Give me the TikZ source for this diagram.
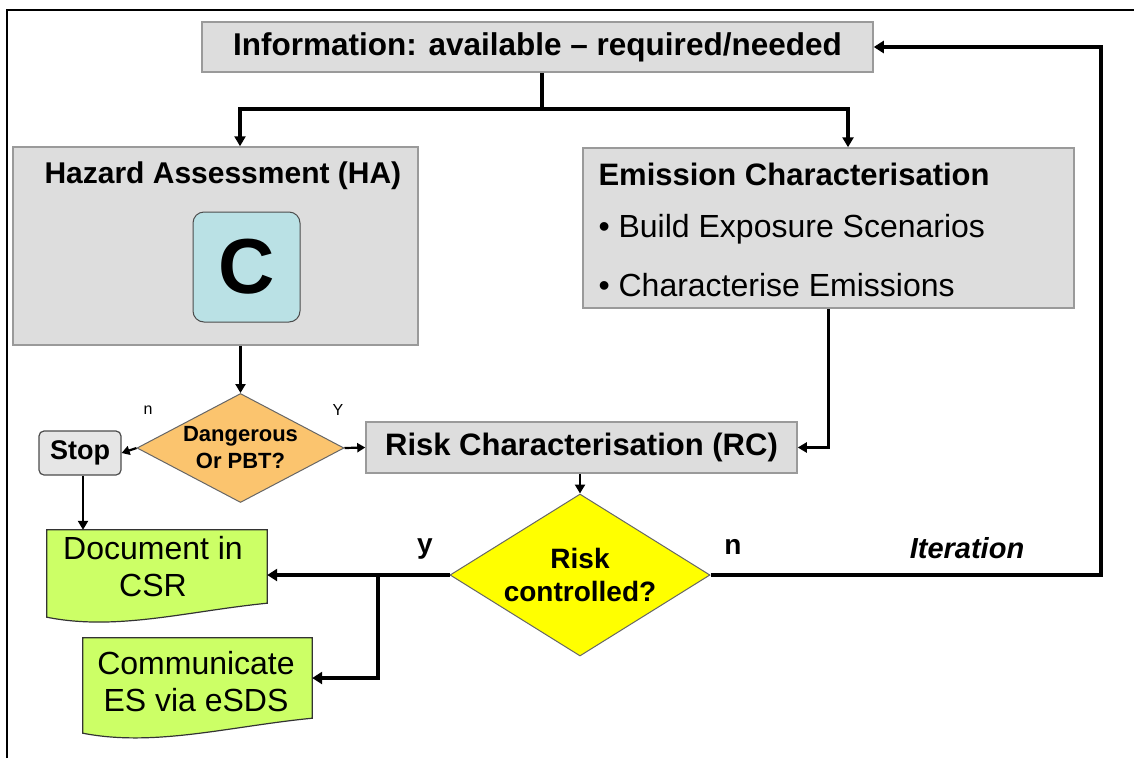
\documentclass[tikz,border=0pt]{standalone}
\usepackage{fontspec}
\setmainfont{Liberation Sans}
\usetikzlibrary{arrows.meta,shapes.geometric,calc}
\definecolor{boxgray}{HTML}{DDDDDD}
\definecolor{boxedge}{HTML}{9A9A9A}
\definecolor{cblue}{HTML}{BAE1E5}
\definecolor{dorange}{HTML}{FBC46E}
\definecolor{ryellow}{HTML}{FFFF00}
\definecolor{dgreen}{HTML}{CCFF66}
\definecolor{stopgray}{HTML}{E6E6E6}
\begin{document}
\begin{tikzpicture}[x=1pt,y=-1pt,
  graybox/.style={draw=boxedge,fill=boxgray,line width=1.5pt,inner sep=0pt},
  bigtext/.style={font=\fontsize{31}{36}\selectfont\bfseries},
  regtext/.style={font=\fontsize{32}{36}\selectfont},
  doctext/.style={font=\fontsize{32}{37}\selectfont,align=center,inner sep=0pt},
  conn/.style={line width=3.5pt,-{Triangle[length=10pt,width=11pt]}},
  midconn/.style={line width=2.8pt,-{Triangle[length=9pt,width=10pt]}},
  thinconn/.style={line width=2.2pt,-{Triangle[length=8pt,width=9pt]}},
  bigconn/.style={line width=4pt,-{Triangle[length=10pt,width=12pt]}},
  docshape/.style={draw=black!80,fill=dgreen,line width=1.2pt}]
\useasboundingbox (0,0) rectangle (1134,758);
\fill[white] (0,0) rectangle (1134,758);
\draw[line width=1.5pt] (7,758) -- (7,10) -- (1134,10);

% boxes
\node[graybox,font=\fontsize{31.5}{36}\selectfont\bfseries,minimum width=671pt,minimum height=50pt] (info) at (537.5,47) {Information: available \textendash\ required/needed};
\node[graybox,minimum width=405pt,minimum height=198pt] (ha) at (215.5,246) {};
\node[font=\fontsize{30}{36}\selectfont\bfseries,anchor=west] (hatitle) at (41,176) {Hazard Assessment (HA)};
\node[draw=black!70,fill=cblue,rounded corners=11pt,line width=1pt,minimum width=107pt,minimum height=110pt,font=\fontsize{78}{80}\selectfont\bfseries] (cbox) at (246.5,267) {C};

\node[graybox,minimum width=491pt,minimum height=160pt] (ec) at (828.5,228) {};
\node[bigtext,anchor=west] (ectitle) at (595,174) {Emission Characterisation};
\node[regtext,anchor=west] (ecb1) at (595,229) {\textbullet\ Build Exposure Scenarios};
\node[regtext,anchor=west] (ecb2) at (595,285) {\textbullet\ Characterise Emissions};

\node[diamond,aspect=2,draw=black!60,fill=dorange,line width=1pt,inner sep=0pt,minimum width=207pt,minimum height=109pt,align=center,font=\fontsize{22}{27}\selectfont\bfseries] (dang) at (240.5,448) {Dangerous\\Or PBT?};
\node[draw=black!70,fill=stopgray,rounded corners=5pt,line width=1.2pt,minimum width=82pt,minimum height=44pt,font=\fontsize{27}{30}\selectfont\bfseries] (stop) at (80,453) {Stop};
\node[graybox,bigtext,minimum width=431pt,minimum height=51pt] (rc) at (581.5,447.5) {Risk Characterisation (RC)};

\node[diamond,aspect=1.6,draw=black!60,fill=ryellow,line width=1pt,inner sep=0pt,minimum width=260pt,minimum height=162pt,align=center,font=\fontsize{28}{33}\selectfont\bfseries] (risk) at (580,575) {Risk\\controlled?};

% document shapes
\node[minimum width=220pt,minimum height=73pt,inner sep=0pt] (doc) at (157,566.5) {};
\draw[docshape] (doc.north west) -- (doc.north east) -- (doc.south east)
  .. controls ($(doc.south east)+(-80,8)$) and ($(doc.south west)+(70,28)$) .. ($(doc.south west)+(0,14)$) -- cycle;
\node[doctext] (doctxt) at (153,567) {Document in\\CSR};

\node[minimum width=229pt,minimum height=80pt,inner sep=0pt] (comm) at (197.5,678) {};
\draw[docshape] (comm.north west) -- (comm.north east) -- (comm.south east)
  .. controls ($(comm.south east)+(-82,8)$) and ($(comm.south west)+(72,29)$) .. ($(comm.south west)+(0,15)$) -- cycle;
\node[doctext] (commtxt) at (196,682) {Communicate\\ES via eSDS};

% labels
\node[font=\fontsize{16}{18}\selectfont] (lbn) at (148,410) {n};
\node[font=\fontsize{16}{18}\selectfont] (lbY) at (338,410) {Y};
\node[font=\fontsize{28}{30}\selectfont\bfseries] (lby) at (425,549) {y};
\node[font=\fontsize{28}{30}\selectfont\bfseries] (lbn2) at (733,547) {n};
\node[font=\fontsize{29}{32}\selectfont\bfseries\itshape] (iter) at (967,548) {Iteration};

% connectors
\draw[conn] ([xshift=4.5pt]info.south) -- ++(0,36) coordinate (j0) -| ([xshift=24.5pt]ha.north);
\draw[conn] (j0) -| ([xshift=19.5pt]ec.north);
\draw[midconn] ([xshift=25pt]ha.south) -- (dang.north);
\draw[thinconn] (dang.west) -- (stop.east);
\draw[thinconn] (dang.east) -- (rc.west);
\draw[midconn] (ec.south) |- (rc.east);
\draw[midconn] (rc.south -| risk.north) -- (risk.north);
\draw[midconn] ([xshift=3pt]stop.south) -- ([xshift=3pt]stop.south |- doc.north);
\draw[bigconn] (risk.west) -- (risk.west -| doc.east);
\path (risk.west) -- ++(-72,0) coordinate (jy);
\draw[bigconn] (jy) |- (comm.east);
\draw[bigconn] (risk.east) -- ++(390,0) |- (info.east);
\end{tikzpicture}
\end{document}
